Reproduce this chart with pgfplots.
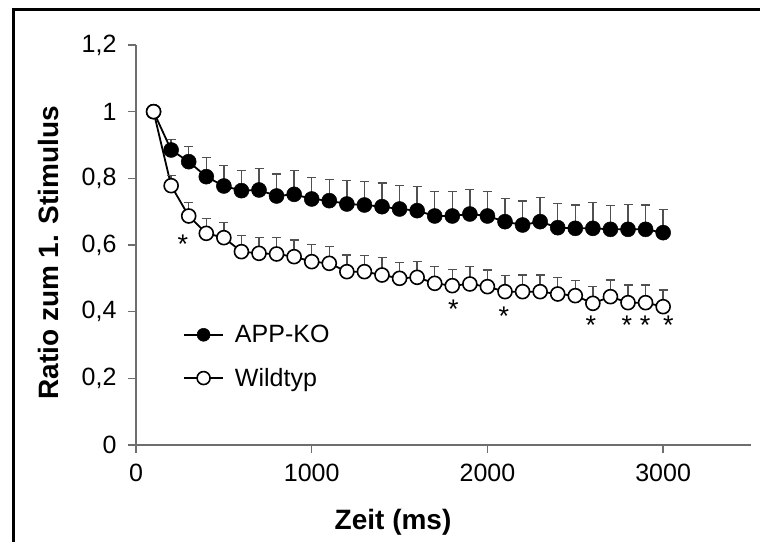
\documentclass[border=0pt]{standalone}
\usepackage{pgfplots}
\pgfplotsset{compat=1.18}
\usepackage{pgfplotstable}
\usepackage{fontspec}
\setmainfont{Liberation Sans}
\definecolor{axgray}{HTML}{6E6E6E}
\definecolor{errgray}{HTML}{505050}

% time (ms), APP-KO mean + SEM, Wildtyp mean + SEM
\pgfplotstableread{
x    ko     koerr  wt     wterr
100  1.000  0.000  1.000  0.000
200  0.885  0.032  0.778  0.030
300  0.850  0.045  0.687  0.041
400  0.805  0.057  0.635  0.045
500  0.777  0.061  0.622  0.046
600  0.763  0.061  0.580  0.048
700  0.765  0.065  0.575  0.047
800  0.747  0.066  0.573  0.050
900  0.752  0.071  0.565  0.050
1000 0.738  0.065  0.550  0.052
1100 0.733  0.064  0.545  0.050
1200 0.723  0.071  0.520  0.050
1300 0.720  0.070  0.520  0.048
1400 0.715  0.071  0.510  0.052
1500 0.708  0.070  0.500  0.048
1600 0.703  0.072  0.503  0.048
1700 0.687  0.073  0.485  0.050
1800 0.687  0.073  0.478  0.049
1900 0.693  0.074  0.483  0.052
2000 0.687  0.073  0.475  0.050
2100 0.670  0.070  0.460  0.048
2200 0.660  0.072  0.460  0.050
2300 0.670  0.073  0.460  0.050
2400 0.652  0.073  0.453  0.050
2500 0.650  0.070  0.448  0.046
2600 0.650  0.077  0.425  0.050
2700 0.647  0.072  0.445  0.050
2800 0.647  0.075  0.427  0.053
2900 0.647  0.073  0.427  0.053
3000 0.637  0.070  0.415  0.050
}\datatable

% significance stars
\pgfplotstableread{
x    y
267  0.620
1806 0.423
2094 0.403
2588 0.375
2793 0.375
2897 0.375
3030 0.375
}\stars

\newcommand\tickfont{\fontsize{25bp}{30bp}\selectfont}
\newcommand\labfont{\fontsize{28bp}{33bp}\selectfont\bfseries}

\begin{document}
\begin{tikzpicture}[x=1bp,y=1bp]
\useasboundingbox (-136,-101) rectangle (624,445);
\draw[line width=3bp] (-122.5,-97) -- (-122.5,435.5) -- (626,435.5);
\begin{axis}[
  at={(0,0)}, anchor=south west,
  scale only axis,
  width=615bp, height=400bp,
  xmin=0, xmax=3500,
  ymin=0, ymax=1.2,
  axis lines*=left,
  axis line style={axgray, line width=2bp},
  tick style={axgray, line width=1.5bp},
  tick align=outside,
  major tick length=8bp,
  xtick={0,1000,2000,3000},
  ytick={0,0.2,0.4,0.6,0.8,1,1.2},
  /pgf/number format/.cd, use comma, fixed, 1000 sep={}, assume math mode=true,
  /pgfplots/.cd,
  scaled ticks=false,
  ticklabel style={font=\tickfont},
  xticklabel style={anchor=base, yshift=-29bp},
  yticklabel style={anchor=east, xshift=-8bp},
  xlabel={Zeit (ms)},
  ylabel={Ratio zum 1. Stimulus},
  xlabel style={font=\labfont, at={(axis description cs:0.418,0)}, anchor=base, yshift=-85bp},
  ylabel style={font=\labfont, at={(axis description cs:0,0.5)}, anchor=center, yshift=87.5bp, xshift=-8bp},
  clip=false,
  legend style={at={(axis description cs:0.0764,0.221)}, anchor=west,
    draw=none, fill=none, inner sep=0pt, row sep=20bp, column sep=9bp,
    font=\tickfont, legend cell align=left},
  legend image code/.code={
    \draw[#1, mark size=6.5bp, mark repeat=2, mark phase=2] plot coordinates {(0bp,0bp) (19.5bp,0bp) (39bp,0bp)};
  },
]
\addplot[black, line width=1.8bp, mark=*, mark size=7.5bp,
  mark options={fill=black, draw=black, line width=0.5bp},
  error bars/.cd, y dir=plus, y explicit,
  error bar style={errgray, line width=1.5bp, solid},
  error mark options={rotate=90, mark size=4.5bp, errgray, line width=1.5bp}]
  table[x=x, y=ko, y error=koerr] {\datatable};
\addlegendentry{APP-KO}
\addplot[black, line width=1.8bp, mark=*, mark size=7bp,
  mark options={fill=white, draw=black, line width=1.6bp},
  error bars/.cd, y dir=plus, y explicit,
  error bar style={errgray, line width=1.5bp, solid},
  error mark options={rotate=90, mark size=4.5bp, errgray, line width=1.5bp}]
  table[x=x, y=wt, y error=wterr] {\datatable};
\addlegendentry{Wildtyp}
\addplot[draw=none, mark=none, forget plot,
  nodes near coords={*},
  every node near coord/.style={font=\fontsize{27bp}{30bp}\selectfont, anchor=center, yshift=-5.5bp, inner sep=0pt}]
  table[x=x, y=y] {\stars};
\end{axis}
\end{tikzpicture}
\end{document}
